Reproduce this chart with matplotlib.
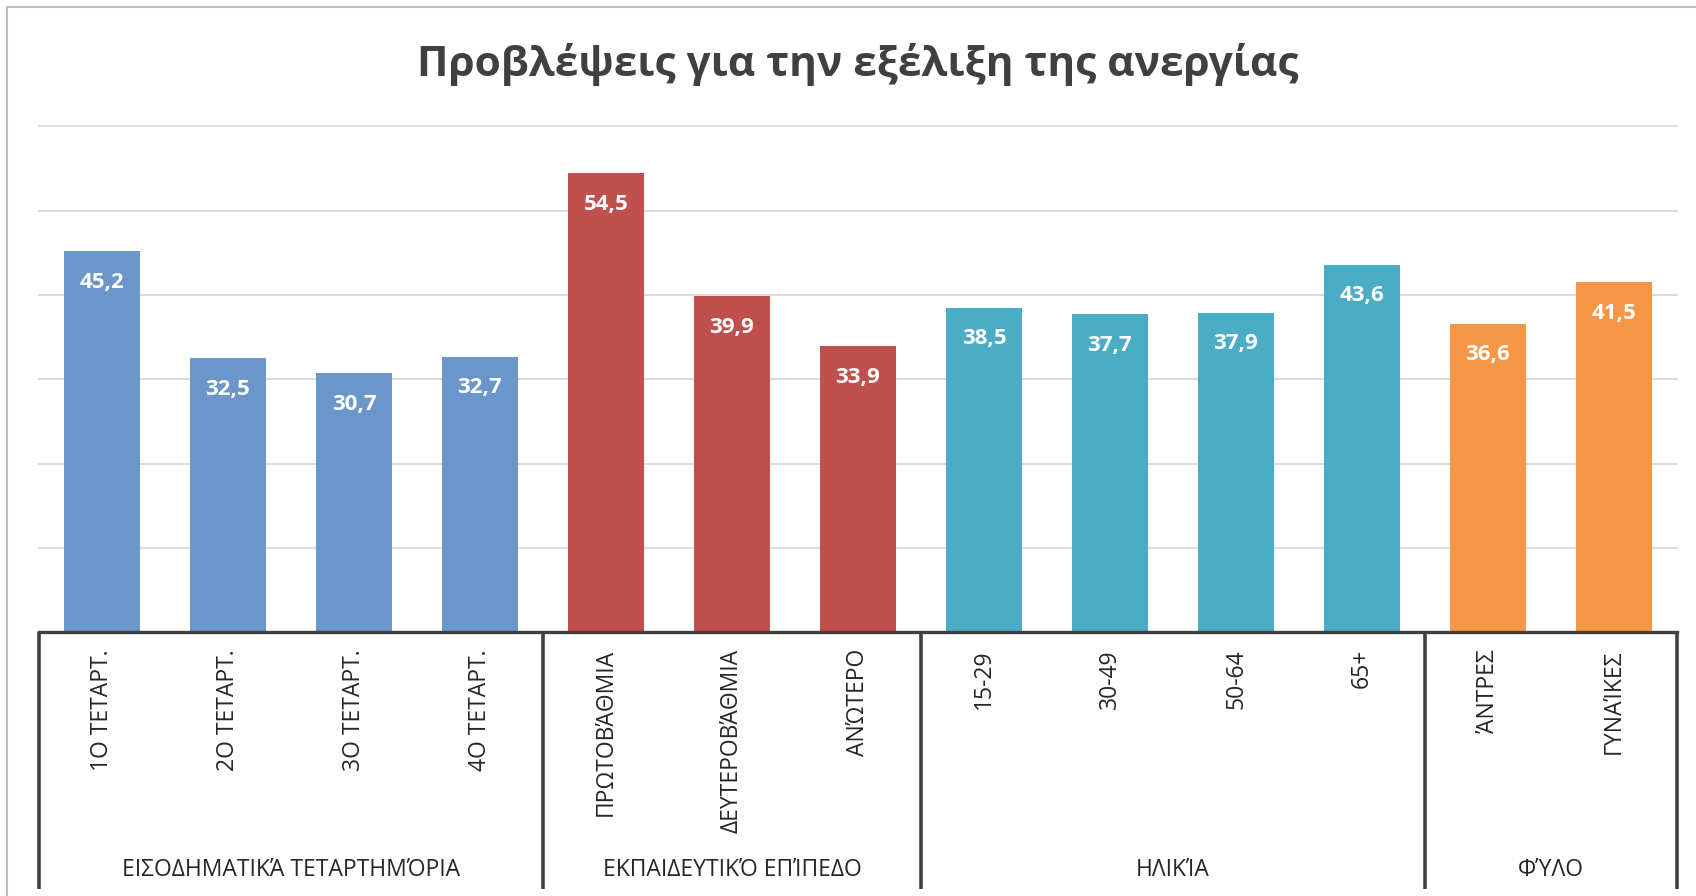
import numpy as np
import matplotlib.pyplot as plt
from matplotlib.lines import Line2D
import matplotlib.transforms as mtransforms

plt.rcParams['font.family'] = ['Open Sans', 'DejaVu Sans']

# data
categories = ["1Ο ΤΕΤΑΡΤ.", "2Ο ΤΕΤΑΡΤ.", "3Ο ΤΕΤΑΡΤ.", "4Ο ΤΕΤΑΡΤ.",
              "ΠΡΩΤΟΒΆΘΜΙΑ", "ΔΕΥΤΕΡΟΒΆΘΜΙΑ", "ΑΝΏΤΕΡΟ",
              "15-29", "30-49", "50-64", "65+",
              "ΆΝΤΡΕΣ", "ΓΥΝΑΊΚΕΣ"]
values = [45.2, 32.5, 30.7, 32.7,
          54.5, 39.9, 33.9,
          38.5, 37.7, 37.9, 43.6,
          36.6, 41.5]
groups = ["ΕΙΣΟΔΗΜΑΤΙΚΆ ΤΕΤΑΡΤΗΜΌΡΙΑ", "ΕΚΠΑΙΔΕΥΤΙΚΌ ΕΠΊΠΕΔΟ", "ΗΛΙΚΊΑ", "ΦΎΛΟ"]
group_sizes = [4, 3, 4, 2]
group_colors = ["#6A96C9", "#C0504D", "#4BACC6", "#F79646"]

title = "Προβλέψεις για την εξέλιξη της ανεργίας"

W, H = 1696, 896
fig = plt.figure(figsize=(W / 100, H / 100), dpi=100)
ax_left, ax_right, ax_top, ax_bot = 39, 1677, 126.5, 632
ax = fig.add_axes([ax_left / W, 1 - ax_bot / H, (ax_right - ax_left) / W, (ax_bot - ax_top) / H])

colors = []
for c, n in zip(group_colors, group_sizes):
    colors += [c] * n

x = np.arange(len(categories))
bars = ax.bar(x, values, width=0.6, color=colors, zorder=3)
ax.set_xlim(-0.5, len(categories) - 0.5)
ax.set_ylim(0, 60)
ax.set_yticks(np.arange(10, 61, 10))
ax.yaxis.grid(True, color="#D9D9D9", linewidth=1.3, zorder=0)
for gl in ax.get_ygridlines():
    gl.set_clip_on(False)
ax.tick_params(left=False, labelleft=False, bottom=False, labelbottom=False)
for s in ["top", "right", "left"]:
    ax.spines[s].set_visible(False)
ax.spines["bottom"].set_color("#404040")
ax.spines["bottom"].set_linewidth(2.4)
ax.spines["bottom"].set_zorder(4)

for xi, v in zip(x, values):
    ax.annotate(f"{v:.1f}".replace(".", ","), (xi, v), xytext=(0, -22.5),
                textcoords="offset points", ha="center", va="center",
                color="white", fontsize=16, fontweight="bold", zorder=5)

trans = mtransforms.blended_transform_factory(ax.transData, ax.transAxes)
ph = ax_bot - ax_top
label_top = -17 / ph
group_y = -238 / ph
bracket_bottom = -257 / ph

for xi, lab in zip(x, categories):
    ax.text(xi, label_top, lab, transform=trans, rotation=90, ha="center", va="top",
            fontsize=16.5, color="#262626")

bounds = np.concatenate([[0], np.cumsum(group_sizes)]) - 0.5
for b in bounds:
    ax.plot([b, b], [0, bracket_bottom], transform=trans, color="#404040",
            linewidth=2.6, clip_on=False, solid_capstyle="butt")
for i, g in enumerate(groups):
    mid = (bounds[i] + bounds[i + 1]) / 2
    ax.text(mid, group_y, g, transform=trans, ha="center", va="center",
            fontsize=16.5, color="#262626")

fig.text((ax_left + ax_right) / 2 / W, 1 - 64 / H, title, ha="center", va="center",
         fontsize=30.5, fontweight="bold", color="#404040")

# outer chart frame (left and top edges visible)
fig.add_artist(Line2D([7 / W, 7 / W], [0, 1 - 7 / H], transform=fig.transFigure,
                      color="#BFBFBF", linewidth=1.5))
fig.add_artist(Line2D([7 / W, 1], [1 - 7 / H, 1 - 7 / H], transform=fig.transFigure,
                      color="#BFBFBF", linewidth=1.5))

fig.savefig("out.png", dpi=100)
